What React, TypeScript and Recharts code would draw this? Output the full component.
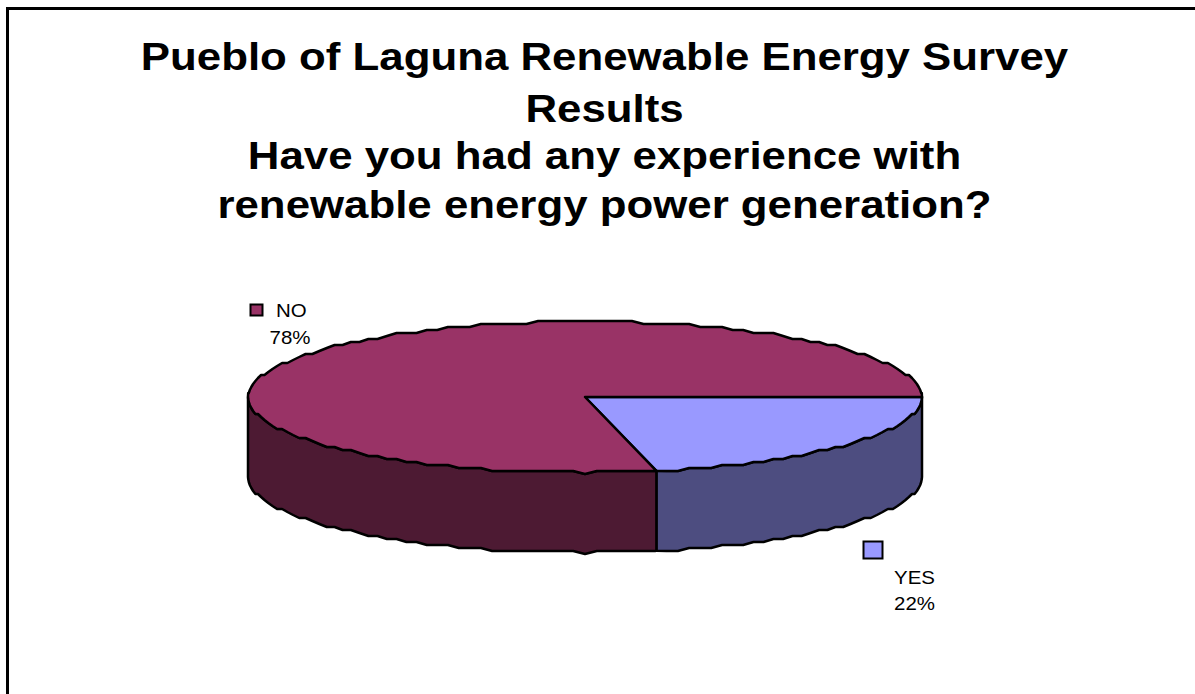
import { PieChart, Pie, Cell } from 'recharts'

const categories = ['YES', 'NO']
const values = [21.6, 78.4]
const topColors = ['#9999FF', '#993366']
const sideColors = ['#4D4D80', '#4D1A33']
const titleLines = [
  'Pueblo of Laguna Renewable Energy Survey',
  'Results',
  'Have you had any experience with',
  'renewable energy power generation?',
]

const chartData = categories.map((name, i) => ({ name, value: values[i] }))

const FONT = '"Liberation Sans", Arial, sans-serif'
const TILT = 75.5 / 337
const DEPTH = 80
const RAD = Math.PI / 180
const STEP = 2

// the original is a coarse polygon, so snap the outline to a rough grid
const snap = (v: number, g: number) => Math.round(v / g) * g

function rim(cx: number, cy: number, r: number, from: number, to: number) {
  const pts: [number, number][] = []
  const exact = (deg: number): [number, number] => [
    cx + r * Math.cos(deg * RAD),
    cy - r * TILT * Math.sin(deg * RAD),
  ]
  pts.push(exact(from))
  // both rims share the same angles, so the walls meet the top face
  for (let k = Math.floor(from / STEP); k * STEP > to; k--) {
    const deg = k * STEP
    if (deg >= from) continue
    const [x, y] = exact(deg)
    pts.push([x, snap(y, 3)])
  }
  pts.push(exact(to))
  return pts
}

const toPath = (pts: [number, number][]) =>
  pts.map((p, i) => `${i ? 'L' : 'M'}${p[0].toFixed(1)} ${p[1].toFixed(1)}`).join(' ')

function Slab(props: any) {
  const { cx, cy, outerRadius, startAngle, endAngle, fill, index } = props
  const top = rim(cx, cy, outerRadius, startAngle, endAngle)

  // only the front half of the rim gets a wall
  const wallFrom = Math.min(startAngle, 0)
  const wallTo = Math.max(endAngle, -180)
  const front = rim(cx, cy, outerRadius, wallFrom, wallTo)
  const lowered = front.map(p => [p[0], p[1] + DEPTH] as [number, number]).reverse()

  return (
    <g>
      <path
        d={`${toPath(front)} ${toPath(lowered).replace('M', 'L')} Z`}
        fill={sideColors[index]}
        stroke="#000"
        strokeWidth={2.5}
        strokeLinejoin="round"
      />
      <path
        d={`M${cx} ${cy} ${toPath(top).replace('M', 'L')} Z`}
        fill={fill}
        stroke="#000"
        strokeWidth={2.5}
        strokeLinejoin="round"
      />
    </g>
  )
}

function SliceLabel(props: any) {
  const { name, percent, fill } = props
  const isNo = name === 'NO'
  return (
    <g fontFamily={FONT} fontSize={17.5} fill="#000">
      <rect
        x={isNo ? 250.5 : 863.5}
        y={isNo ? 304.5 : 541.5}
        width={isNo ? 12 : 19}
        height={isNo ? 11 : 17}
        fill={fill}
        stroke="#000"
        strokeWidth={2}
      />
      <text transform={`translate(${isNo ? 276 : 894} ${isNo ? 317 : 584}) scale(1.17 1)`}>{name}</text>
      <text transform={`translate(${isNo ? 269.5 : 894} ${isNo ? 344 : 610}) scale(1.17 1)`}>
        {Math.round(percent * 100)}%
      </text>
    </g>
  )
}

export default function App() {
  return (
    <div style={{ position: 'absolute', left: 0, top: 0, width: 1195, height: 694, background: '#fff', overflow: 'hidden' }}>
      <div style={{ position: 'absolute', left: 6, top: 7, width: 1189, height: 687, borderLeft: '3px solid #000', borderTop: '3px solid #000' }} />
      <PieChart
        width={1195}
        height={694}
        margin={{ top: 0, right: 0, bottom: 0, left: 0 }}
        style={{ position: 'absolute', left: 0, top: 0 }}
      >
        {titleLines.map((line, i) => (
          <text
            key={line}
            transform={`translate(604.5 ${[70, 122, 169, 218][i]}) scale(1.153 1)`}
            textAnchor="middle"
            fontFamily={FONT}
            fontWeight="bold"
            fontSize={38}
            fill="#000"
          >
            {line}
          </text>
        ))}
        <Pie
          data={chartData}
          dataKey="value"
          nameKey="name"
          cx={585}
          cy={397}
          outerRadius={337}
          startAngle={0}
          endAngle={-360}
          stroke="#000"
          shape={Slab}
          label={SliceLabel}
          labelLine={false}
          isAnimationActive={false}
        >
          {chartData.map((d, i) => (
            <Cell key={d.name} fill={topColors[i]} />
          ))}
        </Pie>
      </PieChart>
    </div>
  )
}
